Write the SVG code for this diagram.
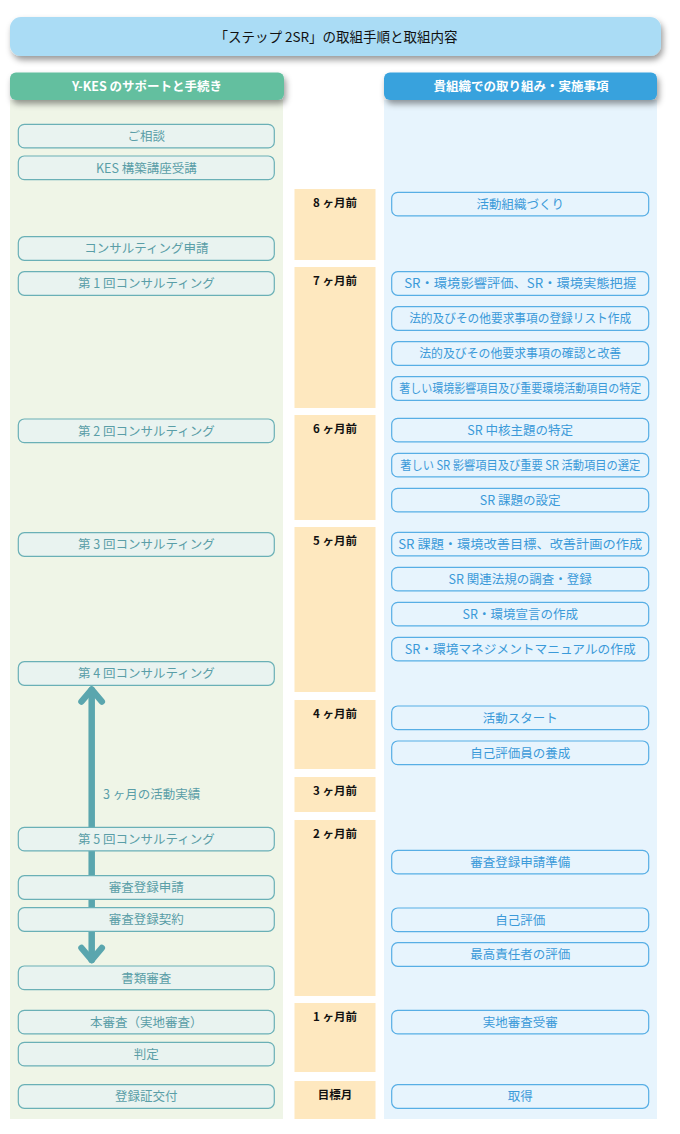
<svg xmlns="http://www.w3.org/2000/svg" width="680" height="1134" viewBox="0 0 680 1134">
<style>
text{font-family:"Noto Sans CJK JP","Noto Sans",sans-serif;text-anchor:middle}
.lb{fill:#e9f3f0;stroke:#6ab0b6;stroke-width:1.2}
.rb{fill:#e7f4fd;stroke:#57aee5;stroke-width:1.2}
.lt{fill:#5a9ea7;font-size:12.5px}
.rt{fill:#3b9ad9;font-size:12.5px}
.mo{fill:#fee8bf}
.mt{fill:#111;font-size:11.5px;font-weight:bold}
.hd{fill:#fff;font-size:12.5px;font-weight:bold}
.arr{fill:none;stroke:#5aa6ae;stroke-width:6.5;stroke-linecap:round;stroke-linejoin:round}
</style>
<defs>
<filter id="sh" x="-10%" y="-30%" width="120%" height="180%">
<feDropShadow dx="2" dy="4" stdDeviation="3" flood-color="#000" flood-opacity="0.4"/>
</filter>
</defs>
<rect width="680" height="1134" fill="#fff"/>
<g id="panels">
<rect x="10" y="100" width="273" height="1019" fill="#eff5e7"/>
<rect x="384" y="100" width="273" height="1019" fill="#e7f4fd"/>
</g>
<g id="title">
<rect x="10" y="17" width="651" height="39" rx="11" fill="#aadcf5" filter="url(#sh)"/>
<text x="336" y="42" style="font-size:13.5px;fill:#111">「ステップ 2SR」の取組手順と取組内容</text>
</g>
<g id="header-left">
<rect x="10" y="72.5" width="274" height="27.5" rx="6" fill="#63bf9f" filter="url(#sh)"/>
<text class="hd" x="147" y="91">Y-KES のサポートと手続き</text>
</g>
<g id="header-right">
<rect x="384" y="72.5" width="273" height="27.5" rx="6" fill="#37a2dd" filter="url(#sh)"/>
<text class="hd" x="521" y="91">貴組織での取り組み・実施事項</text>
</g>
<g id="months">
<g id="m8"><rect class="mo" x="294.5" y="189" width="81" height="71"/><text class="mt" x="335" y="207">8 ヶ月前</text></g>
<g id="m7"><rect class="mo" x="294.5" y="267" width="81" height="141"/><text class="mt" x="335" y="285">7 ヶ月前</text></g>
<g id="m6"><rect class="mo" x="294.5" y="415" width="81" height="105"/><text class="mt" x="335" y="433">6 ヶ月前</text></g>
<g id="m5"><rect class="mo" x="294.5" y="527" width="81" height="165"/><text class="mt" x="335" y="545">5 ヶ月前</text></g>
<g id="m4"><rect class="mo" x="294.5" y="700" width="81" height="69"/><text class="mt" x="335" y="718">4 ヶ月前</text></g>
<g id="m3"><rect class="mo" x="294.5" y="777" width="81" height="35"/><text class="mt" x="335" y="795">3 ヶ月前</text></g>
<g id="m2"><rect class="mo" x="294.5" y="820" width="81" height="176"/><text class="mt" x="335" y="838">2 ヶ月前</text></g>
<g id="m1"><rect class="mo" x="294.5" y="1003" width="81" height="69"/><text class="mt" x="335" y="1021">1 ヶ月前</text></g>
<g id="m0"><rect class="mo" x="294.5" y="1081" width="81" height="38"/><text class="mt" x="335" y="1099">目標月</text></g>
</g>
<g id="connectors">
<path class="arr" d="M91.7 690 V960"/>
<path class="arr" d="M81.5 701.5 L91.7 689.5 L101.8 701.5"/>
<path class="arr" d="M81.5 948 L91.7 960 L101.8 948"/>
<text class="lt" x="103" y="799" style="text-anchor:start">3 ヶ月の活動実績</text>
</g>
<g id="left-nodes">
<g id="l1"><rect class="lb" x="18.3" y="124.3" width="256" height="23.6" rx="6"/><text class="lt" x="146.3" y="141">ご相談</text></g>
<g id="l2"><rect class="lb" x="18.3" y="156" width="256" height="23.6" rx="6"/><text class="lt" x="146.3" y="172.7">KES 構築講座受講</text></g>
<g id="l3"><rect class="lb" x="18.3" y="236.7" width="256" height="23.6" rx="6"/><text class="lt" x="146.3" y="253.4">コンサルティング申請</text></g>
<g id="l4"><rect class="lb" x="18.3" y="271.7" width="256" height="23.6" rx="6"/><text class="lt" x="146.3" y="288.4">第 1 回コンサルティング</text></g>
<g id="l5"><rect class="lb" x="18.3" y="419" width="256" height="23.6" rx="6"/><text class="lt" x="146.3" y="435.7">第 2 回コンサルティング</text></g>
<g id="l6"><rect class="lb" x="18.3" y="532.7" width="256" height="23.6" rx="6"/><text class="lt" x="146.3" y="549.4">第 3 回コンサルティング</text></g>
<g id="l7"><rect class="lb" x="18.3" y="661.7" width="256" height="23.6" rx="6"/><text class="lt" x="146.3" y="678.4">第 4 回コンサルティング</text></g>
<g id="l8"><rect class="lb" x="18.3" y="827.3" width="256" height="23.6" rx="6"/><text class="lt" x="146.3" y="844">第 5 回コンサルティング</text></g>
<g id="l9"><rect class="lb" x="18.3" y="875.7" width="256" height="23.6" rx="6"/><text class="lt" x="146.3" y="892.4">審査登録申請</text></g>
<g id="l10"><rect class="lb" x="18.3" y="907.7" width="256" height="23.6" rx="6"/><text class="lt" x="146.3" y="924.4">審査登録契約</text></g>
<g id="l11"><rect class="lb" x="18.3" y="966" width="256" height="23.6" rx="6"/><text class="lt" x="146.3" y="982.7">書類審査</text></g>
<g id="l12"><rect class="lb" x="18.3" y="1010.3" width="256" height="23.6" rx="6"/><text class="lt" x="146.3" y="1027">本審査（実地審査）</text></g>
<g id="l13"><rect class="lb" x="18.3" y="1042.3" width="256" height="23.6" rx="6"/><text class="lt" x="146.3" y="1059">判定</text></g>
<g id="l14"><rect class="lb" x="18.3" y="1084.7" width="256" height="23.6" rx="6"/><text class="lt" x="146.3" y="1101.4">登録証交付</text></g>
</g>
<g id="right-nodes">
<g id="r1"><rect class="rb" x="391.7" y="192.3" width="257" height="23.6" rx="6"/><text class="rt" x="520.2" y="209">活動組織づくり</text></g>
<g id="r2"><rect class="rb" x="391.7" y="271.7" width="257" height="23.6" rx="6"/><text class="rt" x="520.2" y="288.4" textLength="232" lengthAdjust="spacingAndGlyphs">SR・環境影響評価、SR・環境実態把握</text></g>
<g id="r3"><rect class="rb" x="391.7" y="306.7" width="257" height="23.6" rx="6"/><text class="rt" x="520.2" y="323.4" textLength="222" lengthAdjust="spacingAndGlyphs">法的及びその他要求事項の登録リスト作成</text></g>
<g id="r4"><rect class="rb" x="391.7" y="341.7" width="257" height="23.6" rx="6"/><text class="rt" x="520.2" y="358.4" textLength="202" lengthAdjust="spacingAndGlyphs">法的及びその他要求事項の確認と改善</text></g>
<g id="r5"><rect class="rb" x="391.7" y="376.7" width="257" height="23.6" rx="6"/><text class="rt" x="520.2" y="393.4" textLength="242" lengthAdjust="spacingAndGlyphs">著しい環境影響項目及び重要環境活動項目の特定</text></g>
<g id="r6"><rect class="rb" x="391.7" y="418.3" width="257" height="23.6" rx="6"/><text class="rt" x="520.2" y="435">SR 中核主題の特定</text></g>
<g id="r7"><rect class="rb" x="391.7" y="453.3" width="257" height="23.6" rx="6"/><text class="rt" x="520.2" y="470" textLength="240" lengthAdjust="spacingAndGlyphs">著しい SR 影響項目及び重要 SR 活動項目の選定</text></g>
<g id="r8"><rect class="rb" x="391.7" y="488.3" width="257" height="23.6" rx="6"/><text class="rt" x="520.2" y="505">SR 課題の設定</text></g>
<g id="r9"><rect class="rb" x="391.7" y="532.3" width="257" height="23.6" rx="6"/><text class="rt" x="520.2" y="549" textLength="244" lengthAdjust="spacingAndGlyphs">SR 課題・環境改善目標、改善計画の作成</text></g>
<g id="r10"><rect class="rb" x="391.7" y="567.3" width="257" height="23.6" rx="6"/><text class="rt" x="520.2" y="584">SR 関連法規の調査・登録</text></g>
<g id="r11"><rect class="rb" x="391.7" y="602.3" width="257" height="23.6" rx="6"/><text class="rt" x="520.2" y="619">SR・環境宣言の作成</text></g>
<g id="r12"><rect class="rb" x="391.7" y="637.3" width="257" height="23.6" rx="6"/><text class="rt" x="520.2" y="654" textLength="231" lengthAdjust="spacingAndGlyphs">SR・環境マネジメントマニュアルの作成</text></g>
<g id="r13"><rect class="rb" x="391.7" y="706" width="257" height="23.6" rx="6"/><text class="rt" x="520.2" y="722.7">活動スタート</text></g>
<g id="r14"><rect class="rb" x="391.7" y="741" width="257" height="23.6" rx="6"/><text class="rt" x="520.2" y="757.7">自己評価員の養成</text></g>
<g id="r15"><rect class="rb" x="391.7" y="850.3" width="257" height="23.6" rx="6"/><text class="rt" x="520.2" y="867">審査登録申請準備</text></g>
<g id="r16"><rect class="rb" x="391.7" y="908" width="257" height="23.6" rx="6"/><text class="rt" x="520.2" y="924.7">自己評価</text></g>
<g id="r17"><rect class="rb" x="391.7" y="942.7" width="257" height="23.6" rx="6"/><text class="rt" x="520.2" y="959.4">最高責任者の評価</text></g>
<g id="r18"><rect class="rb" x="391.7" y="1010.3" width="257" height="23.6" rx="6"/><text class="rt" x="520.2" y="1027">実地審査受審</text></g>
<g id="r19"><rect class="rb" x="391.7" y="1084.7" width="257" height="23.6" rx="6"/><text class="rt" x="520.2" y="1101.4">取得</text></g>
</g>
</svg>
